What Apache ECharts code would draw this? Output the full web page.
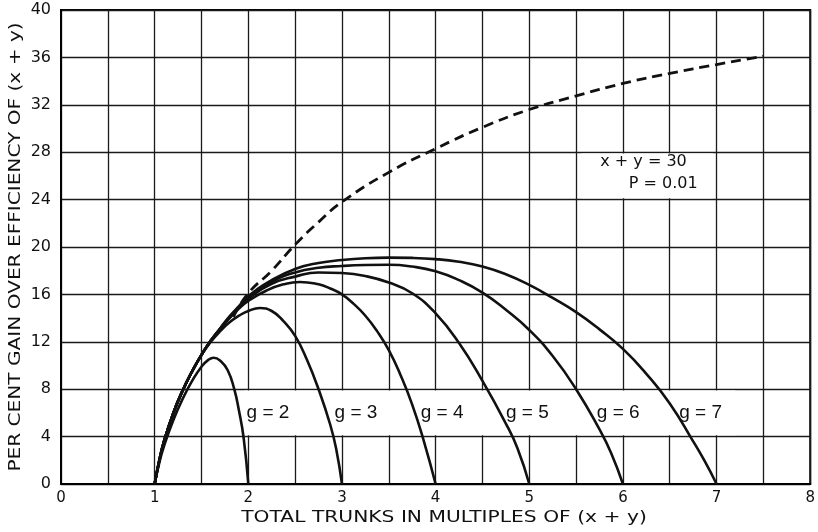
<!DOCTYPE html>
<html>
<head>
<meta charset="utf-8">
<script src="https://cdn.jsdelivr.net/npm/echarts@6/dist/echarts.min.js"></script>
<style>
  html, body { margin: 0; padding: 0; background: #fff; }
  #chart { width: 818px; height: 532px; }
</style>
</head>
<body>
<div id="chart"></div>
<script>
// ---- data: per cent gain vs. total trunks, x + y = 30, P = 0.01 ----
const xTickLabels = [0, 1, 2, 3, 4, 5, 6, 7, 8];
const yTickLabels = [0, 4, 8, 12, 16, 20, 24, 28, 32, 36, 40];

const curveG2 = [[1,0],[1.05,1.8],[1.1,3.2],[1.2,5.4],[1.3,7.2],[1.4,8.7],[1.5,9.9],[1.57,10.45],[1.63,10.65],[1.7,10.4],[1.78,9.6],[1.85,8.0],[1.9,6.2],[1.95,3.9],[2,0]];
const curveG3 = [[1,0],[1.05,2.0],[1.1,3.6],[1.2,6.0],[1.3,7.9],[1.4,9.5],[1.5,10.9],[1.6,12.0],[1.7,12.9],[1.8,13.65],[1.9,14.2],[2.0,14.6],[2.125,14.85],[2.25,14.6],[2.375,13.75],[2.5,12.5],[2.625,10.5],[2.75,8.0],[2.875,5.0],[2.94,2.9],[3,0]];
const curveG4 = [[1,0],[1.05,2.0],[1.1,3.6],[1.2,6.0],[1.3,7.9],[1.4,9.5],[1.5,10.9],[1.6,12.1],[1.7,13.1],[1.8,14.0],[1.9,14.8],[2.0,15.45],[2.2,16.35],[2.375,16.85],[2.55,17.05],[2.75,16.85],[2.875,16.5],[3.0,16.0],[3.125,15.2],[3.25,14.2],[3.375,12.9],[3.5,11.3],[3.625,9.2],[3.75,6.7],[3.875,3.6],[4,0]];
const curveG5 = [[1,0],[1.05,2.0],[1.1,3.6],[1.2,6.0],[1.3,7.9],[1.4,9.5],[1.5,10.9],[1.6,12.1],[1.7,13.1],[1.8,14.05],[1.9,14.9],[2.0,15.65],[2.25,16.9],[2.5,17.5],[2.75,17.85],[3.0,17.8],[3.25,17.55],[3.5,17.0],[3.75,16.1],[4.0,14.4],[4.25,11.9],[4.5,8.7],[4.75,5.1],[4.875,3.0],[5,0]];
const curveG6 = [[1,0],[1.05,2.0],[1.1,3.6],[1.2,6.0],[1.3,7.9],[1.4,9.5],[1.5,10.9],[1.6,12.1],[1.7,13.1],[1.8,14.1],[1.9,14.95],[2.0,15.75],[2.25,17.05],[2.5,17.85],[2.75,18.25],[3.0,18.4],[3.25,18.48],[3.5,18.5],[3.75,18.35],[4.0,17.95],[4.25,17.2],[4.5,16.15],[4.75,14.7],[5.0,13.0],[5.25,10.8],[5.5,8.0],[5.75,4.6],[5.875,2.6],[6,0]];
const curveG7 = [[1,0],[1.05,2.0],[1.1,3.6],[1.2,6.0],[1.3,7.9],[1.4,9.5],[1.5,10.9],[1.6,12.1],[1.7,13.15],[1.8,14.15],[1.9,15.0],[2.0,15.85],[2.25,17.2],[2.5,18.15],[2.75,18.65],[3.0,18.9],[3.25,19.05],[3.5,19.1],[3.75,19.08],[4.0,18.98],[4.25,18.75],[4.5,18.35],[4.75,17.7],[5.0,16.8],[5.25,15.7],[5.5,14.5],[5.75,13.05],[6.0,11.4],[6.25,9.3],[6.5,6.8],[6.75,3.6],[6.875,1.9],[7,0]];
const envelope = [[1.84,14.1],[2.0,16.1],[2.25,18.0],[2.5,20.2],[2.75,22.1],[3,23.8],[3.5,26.3],[4,28.3],[4.5,30.1],[5,31.6],[5.5,32.75],[6,33.8],[6.5,34.65],[7,35.4],[7.5,36.1]];

const gNames = ['g = 2', 'g = 3', 'g = 4', 'g = 5', 'g = 6', 'g = 7'];
const gLabelX = [2.21, 3.15, 4.07, 4.98, 5.95, 6.83];
const gLabelY = 6.0;

const noteLines = ['x + y = 30', 'P = 0.01'];
const noteX = [6.22, 6.43];
const noteY = [27.15, 25.3];

// ---- chart ----
const chart = echarts.init(document.getElementById('chart'), null, { renderer: 'canvas' });

const INK = '#111';
const LETTER = 'DejaVu Sans';

const curveSeries = [curveG2, curveG3, curveG4, curveG5, curveG6, curveG7].map((d, i) => ({
  name: gNames[i],
  type: 'line',
  data: d,
  smooth: 0.5,
  showSymbol: false,
  symbol: 'none',
  z: 3,
  lineStyle: { color: INK, width: 2.6 },
  silent: true
}));

// text placed at data coordinates, drawn without a symbol
function textSeries(name, texts, xs, ys, font, size) {
  return {
    name: name,
    type: 'scatter',
    symbolSize: 0,
    z: 5,
    silent: true,
    itemStyle: { opacity: 1, color: INK },
    data: texts.map((t, i) => ({ name: t, value: [xs[i], Array.isArray(ys) ? ys[i] : ys] })),
    label: {
      show: true, position: 'inside', formatter: p => p.name, opacity: 1,
      color: INK, fontFamily: font, fontSize: size, textBorderWidth: 0
    }
  };
}

const option = {
  animation: false,
  backgroundColor: '#fff',
  grid: {
    left: 61, right: 2, top: 10, bottom: 48,
    show: true, borderColor: '#000', borderWidth: 2, backgroundColor: 'transparent'
  },
  xAxis: {
    type: 'value', min: 0, max: 8, interval: 0.5,
    axisLine: { show: true, lineStyle: { color: '#000', width: 2 } },
    axisTick: { show: false },
    splitLine: { show: true, lineStyle: { color: '#1a1a1a', width: 1.3 } },
    axisLabel: {
      color: INK, fontFamily: LETTER, fontSize: 15, margin: 7,
      formatter: v => (xTickLabels.includes(v) ? String(v) : '')
    }
  },
  yAxis: {
    type: 'value', min: 0, max: 40, interval: 4,
    axisLine: { show: true, lineStyle: { color: '#000', width: 2 } },
    axisTick: { show: false },
    splitLine: { show: true, lineStyle: { color: '#1a1a1a', width: 1.3 } },
    axisLabel: {
      color: INK, fontFamily: LETTER, fontSize: 16, margin: 10,
      formatter: v => (yTickLabels.includes(v) ? String(v) : '')
    }
  },
  series: [
    // white panels behind the g labels and the note
    {
      type: 'line', data: [], z: 1, silent: true,
      markArea: {
        silent: true,
        itemStyle: { color: '#fff', borderWidth: 0, opacity: 1 },
        label: { show: false },
        data: [
          [{ coord: [1.96, 4.12] }, { coord: [7.2, 7.88] }],
          [{ coord: [5.56, 24.12] }, { coord: [6.96, 27.88] }]
        ]
      }
    },
    ...curveSeries,
    {
      name: 'envelope',
      type: 'line',
      data: envelope,
      smooth: 0.5,
      showSymbol: false,
      symbol: 'none',
      z: 3,
      silent: true,
      lineStyle: { color: INK, width: 2.8, type: [10, 6] }
    },
    textSeries('g labels', gNames, gLabelX, gLabelY, 'Liberation Sans', 19),
    textSeries('note', noteLines, noteX, noteY, LETTER, 16)
  ],
  graphic: [
    {
      type: 'text', x: 444, y: 518, scaleX: 1.35, silent: true,
      style: {
        text: 'TOTAL TRUNKS IN MULTIPLES OF (x + y)',
        fill: INK, font: '15px "DejaVu Sans"',
        textAlign: 'center', textVerticalAlign: 'middle'
      }
    },
    {
      type: 'text', x: 16, y: 247, rotation: Math.PI / 2, scaleX: 1.34, silent: true,
      style: {
        text: 'PER CENT GAIN OVER EFFICIENCY OF (x + y)',
        fill: INK, font: '15px "DejaVu Sans"',
        textAlign: 'center', textVerticalAlign: 'middle'
      }
    }
  ]
};

chart.setOption(option);
</script>
</body>
</html>
